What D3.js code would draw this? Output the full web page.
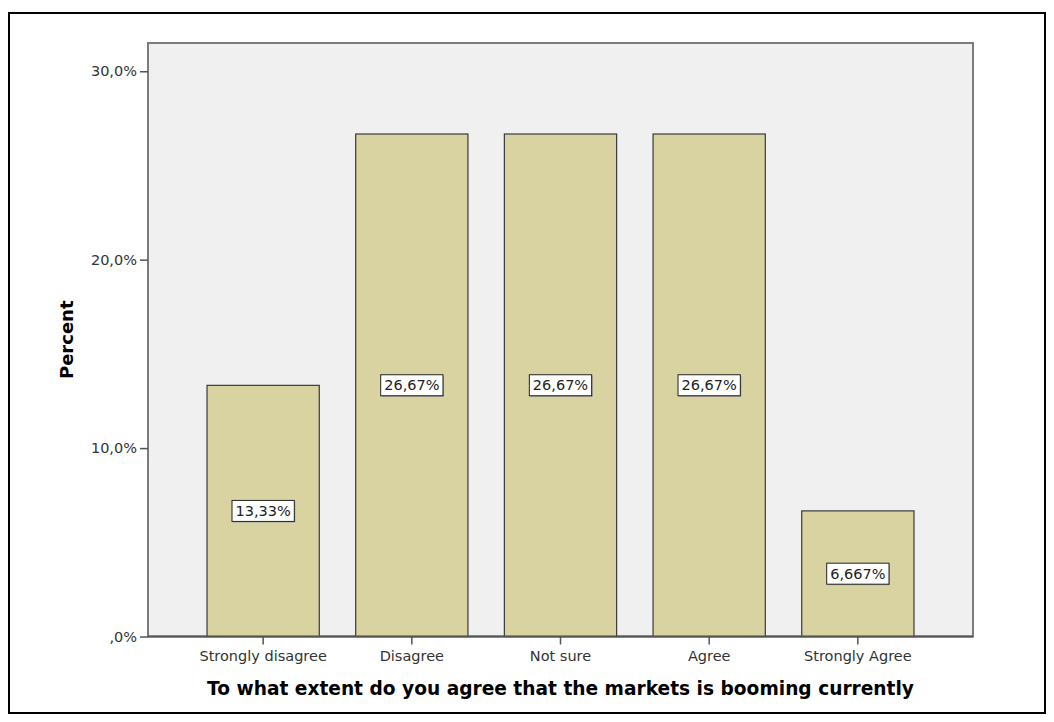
<!DOCTYPE html>
<html>
<head>
<meta charset="utf-8">
<script src="https://cdn.jsdelivr.net/npm/d3@7"></script>
<style>
  body { margin: 0; background: #fff; }
  svg { display: block; }
</style>
</head>
<body>
<svg id="chart" width="1054" height="722"></svg>
<script>
// Response categories and their share of respondents (percent)
const categories = ["Strongly disagree", "Disagree", "Not sure", "Agree", "Strongly Agree"];
const percents = [13.33, 26.67, 26.67, 26.67, 6.667];
const valueLabels = ["13,33%", "26,67%", "26,67%", "26,67%", "6,667%"];

// Y axis ticks (comma decimal separator)
const yTicks = [0, 10, 20, 30];
const yTickLabels = [",0%", "10,0%", "20,0%", "30,0%"];

const xTitle = "To what extent do you agree that the markets is booming currently";
const yTitle = "Percent";

const FONT = "DejaVu Sans, Verdana, sans-serif";

const svg = d3.select("#chart");

const plot = { left: 148, top: 43, right: 973, bottom: 636.5 };

const x = d3.scaleBand()
  .domain(categories)
  .range([plot.left, plot.right])
  .paddingInner(0.245)
  .paddingOuter(0.397);

const y = d3.scaleLinear()
  .domain([0, 31.5])
  .range([plot.bottom, plot.top]);

// Outer chart frame
svg.append("rect")
  .attr("x", 9).attr("y", 13)
  .attr("width", 1036).attr("height", 700)
  .attr("fill", "none")
  .attr("stroke", "#000")
  .attr("stroke-width", 2);

// Plot background
svg.append("rect")
  .attr("x", plot.left).attr("y", plot.top)
  .attr("width", plot.right - plot.left)
  .attr("height", plot.bottom - plot.top)
  .attr("fill", "#f0f0f0")
  .attr("stroke", "#7c7c7c")
  .attr("stroke-width", 2);

// Bars
svg.append("g")
  .selectAll("rect")
  .data(percents)
  .join("rect")
  .attr("x", (d, i) => x(categories[i]))
  .attr("y", d => y(d))
  .attr("width", x.bandwidth())
  .attr("height", d => y(0) - y(d))
  .attr("fill", "#d9d3a2")
  .attr("stroke", "#3a3a3a")
  .attr("stroke-width", 1.2);

// Y axis
const yAxis = svg.append("g")
  .attr("transform", `translate(${plot.left},0)`)
  .call(d3.axisLeft(y)
    .tickValues(yTicks)
    .tickSize(8)
    .tickPadding(3)
    .tickFormat((d, i) => yTickLabels[i]));
yAxis.select(".domain").remove();
yAxis.selectAll(".tick line").attr("stroke", "#555").attr("stroke-width", 1.5);
yAxis.selectAll(".tick text")
  .attr("font-family", FONT)
  .attr("font-size", 14.5)
  .attr("fill", "#333");

// X axis
const xAxis = svg.append("g")
  .attr("transform", `translate(0,${plot.bottom})`)
  .call(d3.axisBottom(x).tickSize(8).tickPadding(6));
xAxis.select(".domain").remove();
xAxis.selectAll(".tick line").attr("stroke", "#555").attr("stroke-width", 1.5);
xAxis.selectAll(".tick text")
  .attr("font-family", FONT)
  .attr("font-size", 14.5)
  .attr("fill", "#333");

// Bottom edge of the plot drawn over the bars
svg.append("line")
  .attr("x1", plot.left).attr("x2", plot.right)
  .attr("y1", plot.bottom).attr("y2", plot.bottom)
  .attr("stroke", "#555").attr("stroke-width", 2);

// Value labels inside bars, centred at half height
const labels = svg.append("g")
  .selectAll("g")
  .data(percents)
  .join("g")
  .attr("transform", (d, i) => `translate(${x(categories[i]) + x.bandwidth() / 2},${y(d / 2)})`);

labels.each(function (d, i) {
  const g = d3.select(this);
  const t = g.append("text")
    .attr("text-anchor", "middle")
    .attr("dy", "0.36em")
    .attr("font-family", FONT)
    .attr("font-size", 14.5)
    .attr("fill", "#222")
    .text(valueLabels[i]);
  const w = t.node().getComputedTextLength() + 7;
  const h = 21;
  g.insert("rect", "text")
    .attr("x", -w / 2 + 1).attr("y", -h / 2 + 1)
    .attr("width", w).attr("height", h)
    .attr("fill", "#9a9a9a");
  g.insert("rect", "text")
    .attr("x", -w / 2).attr("y", -h / 2)
    .attr("width", w).attr("height", h)
    .attr("fill", "#fff")
    .attr("stroke", "#222")
    .attr("stroke-width", 1);
});

// Axis titles
svg.append("text")
  .attr("x", (plot.left + plot.right) / 2)
  .attr("y", 695)
  .attr("text-anchor", "middle")
  .attr("font-family", FONT)
  .attr("font-weight", "bold")
  .attr("font-size", 18.6)
  .attr("fill", "#000")
  .text(xTitle);

svg.append("text")
  .attr("transform", `translate(73,${(plot.top + plot.bottom) / 2}) rotate(-90)`)
  .attr("text-anchor", "middle")
  .attr("font-family", FONT)
  .attr("font-weight", "bold")
  .attr("font-size", 18)
  .attr("fill", "#000")
  .text(yTitle);
</script>
</body>
</html>
